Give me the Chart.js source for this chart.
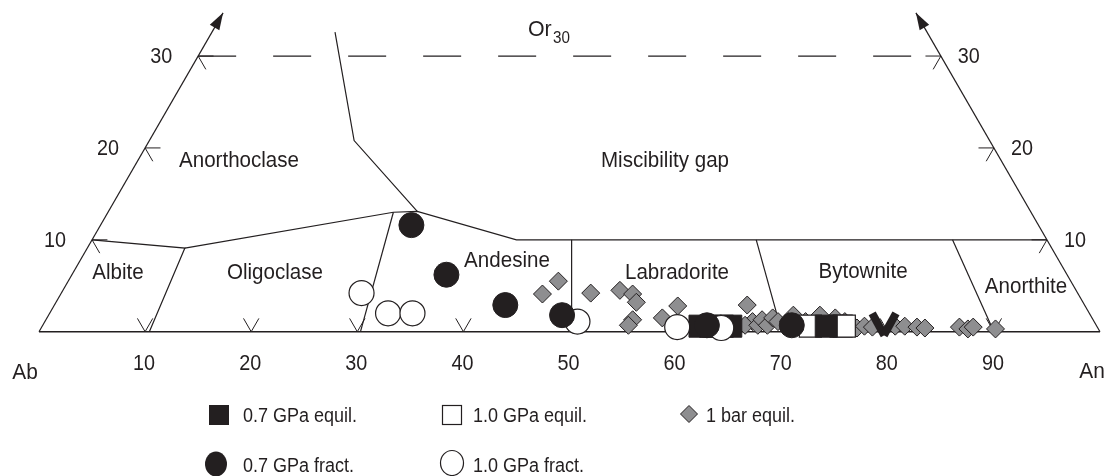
<!DOCTYPE html>
<html>
<head>
<meta charset="utf-8">
<script src="https://cdn.jsdelivr.net/npm/chart.js@4/dist/chart.umd.min.js"></script>
<style>
html,body{margin:0;padding:0;background:#fff;}
#wrap{width:1107px;height:476px;position:relative;}
</style>
</head>
<body>
<div id="wrap"><canvas id="c"></canvas></div>
<script>
// ---------- data (ternary: [An, Or], Ab = 100 - An - Or) ----------
const baseTicks = [10, 20, 30, 40, 50, 60, 70, 80, 90];
const sideTicks = [10, 20, 30];
const orCut = 30;
const edgeTop = 34.7;

const fieldNames = ['Anorthoclase', 'Miscibility gap', 'Albite', 'Oligoclase', 'Andesine', 'Labradorite', 'Bytownite', 'Anorthite'];

// field boundaries
const bAlbite       = [[0, 10], [9.2, 9.1], [10.4, 0]];
const bUpper        = [[9.2, 9.1], [26.9, 13.0], [29.1, 13.1], [40.0, 10.0], [90, 10]];
const bAnorthoclase = [[11.6, 32.6], [19.3, 20.8], [29.1, 13.1]];
const bOligAnd      = [[26.9, 13.0], [30.3, 0]];
const bAndLab       = [[45.2, 10], [50.2, 0]];
const bLabByt       = [[62.6, 10], [70.0, 0]];
const bBytAn        = [[81.1, 10], [90.0, 0]];

// series
const equil07 = [[62.0, 0.6], [63.0, 0.6], [64.1, 0.6], [64.9, 0.6], [73.9, 0.6], [78.7, 0.8], [79.8, 0.8]];
const equil10 = [[72.4, 0.6], [75.3, 0.6], [75.6, 0.6]];
const equil1bar = [[45.4, 4.1], [46.2, 5.5], [49.9, 4.2], [52.5, 4.5], [53.9, 4.1], [54.7, 3.2], [55.3, 1.3], [55.2, 0.7],
  [58.8, 2.8], [58.0, 1.5], [65.3, 2.9], [66.7, 1.1], [66.2, 0.7], [67.4, 0.7], [67.5, 1.3], [68.3, 0.7], [68.4, 1.5],
  [69.1, 1.1], [70.2, 1.8], [70.1, 1.1], [71.7, 1.1], [72.7, 1.8], [74.3, 1.5], [75.4, 1.1], [76.4, 0.7], [76.9, 0.4],
  [77.5, 0.6], [78.3, 0.5], [80.4, 0.6], [81.3, 0.6], [82.5, 0.5], [83.3, 0.4], [86.5, 0.5], [87.4, 0.3], [87.8, 0.5], [90.0, 0.3]];
const fract07 = [[29.3, 11.6], [35.3, 6.2], [42.5, 2.9], [48.4, 1.8], [62.6, 0.7], [70.6, 0.7]];
const fract10 = [[28.3, 4.2], [31.9, 2.0], [34.2, 2.0], [50.2, 1.1], [59.9, 0.5], [64.1, 0.4]];

const seriesLabels = ['0.7 GPa equil.', '1.0 GPa equil.', '1 bar equil.', '0.7 GPa fract.', '1.0 GPa fract.'];

// ---------- helpers ----------
const INK = '#231f20';
const GRAY = '#8e8e90';
const H = Math.sqrt(3) / 2;
const T = ([an, or]) => ({ x: an + or / 2, y: or * H });

const S = 10.61;
const X0 = 39, Y0 = 331.7;
const W = 1107, HT = 476;

function lineDs(pts, extra) {
  return Object.assign({
    type: 'scatter', data: pts.map(T), showLine: true, borderColor: INK, borderWidth: 1.2,
    pointRadius: 0, fill: false, order: 20, tension: 0
  }, extra || {});
}

const tk = 1.45;
const datasets = [];
datasets.push(lineDs([[0, 0], [100, 0]], { borderWidth: 1.4 }));
datasets.push(lineDs([[0, 0], [0, edgeTop]]));
datasets.push(lineDs([[100, 0], [100 - edgeTop, edgeTop]]));
datasets.push(lineDs([[0, orCut], [100 - orCut, orCut]], { borderDash: [38, 37] }));
[bAlbite, bUpper, bAnorthoclase, bOligAnd, bAndLab, bLabByt, bBytAn].forEach(b => datasets.push(lineDs(b)));
baseTicks.forEach(v => datasets.push(lineDs([[v - tk, tk], [v, 0], [v, tk]], { borderWidth: 1 })));
sideTicks.forEach(o => {
  datasets.push(lineDs([[tk, o], [0, o], [tk, o - tk]], { borderWidth: 1 }));
  datasets.push(lineDs([[100 - o - tk, o], [100 - o, o], [100 - o, o - tk]], { borderWidth: 1 }));
});

datasets.push({
  type: 'scatter', label: seriesLabels[2], data: equil1bar.map(T), order: 5,
  pointStyle: 'rectRot', pointRadius: 9, backgroundColor: GRAY, borderColor: INK, borderWidth: 1
});
datasets.push({
  type: 'scatter', label: seriesLabels[1], data: equil10.map(T), order: 4,
  pointStyle: 'rect', pointRadius: 15.6, backgroundColor: '#fff', borderColor: INK, borderWidth: 1.2
});
datasets.push({
  type: 'scatter', label: seriesLabels[0], data: equil07.map(T), order: 3,
  pointStyle: c => (c.dataIndex >= 5 ? 'line' : 'rect'),
  rotation: c => (c.dataIndex === 5 ? 61 : c.dataIndex === 6 ? -61 : 0),
  pointRadius: c => (c.dataIndex >= 5 ? 12.5 : 15.6),
  borderWidth: c => (c.dataIndex >= 5 ? 8 : 1),
  backgroundColor: INK, borderColor: INK
});
datasets.push({
  type: 'scatter', label: seriesLabels[4], data: fract10.map(T), order: 2,
  pointStyle: 'circle', pointRadius: 12.5, backgroundColor: '#fff', borderColor: INK, borderWidth: 1.2
});
datasets.push({
  type: 'scatter', label: seriesLabels[3], data: fract07.map(T), order: 1,
  pointStyle: 'circle', pointRadius: 12.5, backgroundColor: INK, borderColor: INK, borderWidth: 1
});

const FONT = '"Liberation Sans", Arial, Helvetica, sans-serif';
function txt(ctx, s, x, y, size, align, sx) {
  ctx.save();
  ctx.font = size + 'px ' + FONT;
  ctx.textAlign = align || 'center';
  ctx.textBaseline = 'alphabetic';
  ctx.translate(x, y);
  ctx.scale(sx || 0.9, 1);
  ctx.fillText(s, 0, 0);
  ctx.restore();
}

const deco = {
  id: 'deco',
  afterDatasetsDraw(chart) {
    const ctx = chart.ctx, sx = chart.scales.x, sy = chart.scales.y;
    const P = (an, or) => { const t = T([an, or]); return [sx.getPixelForValue(t.x), sy.getPixelForValue(t.y)]; };
    ctx.save();
    ctx.fillStyle = INK;
    [[[0, edgeTop], [0, 0]], [[100 - edgeTop, edgeTop], [100, 0]]].forEach(([tip, from]) => {
      const [tx, ty] = P(tip[0], tip[1]);
      const [fx, fy] = P(from[0], from[1]);
      const L = Math.hypot(tx - fx, ty - fy), ux = (tx - fx) / L, uy = (ty - fy) / L;
      const bx = tx - ux * 17, by = ty - uy * 17;
      ctx.beginPath();
      ctx.moveTo(tx, ty);
      ctx.lineTo(bx - uy * 5.5, by + ux * 5.5);
      ctx.lineTo(bx + uy * 5.5, by - ux * 5.5);
      ctx.closePath();
      ctx.fill();
    });
    baseTicks.forEach(v => { const [x, y] = P(v, 0); txt(ctx, String(v), x - 1, y + 38, 22); });
    sideTicks.forEach(o => {
      const [lx, ly] = P(0, o); txt(ctx, String(o), lx - 37, ly + 7, 22);
      const [rx, ry] = P(100 - o, o); txt(ctx, String(o), rx + 28, ry + 7, 22);
    });
    const [ax, ay] = P(0, 0), [nx, ny] = P(100, 0);
    txt(ctx, 'Ab', ax - 14, ay + 47, 22, 'center', 0.95);
    txt(ctx, 'An', nx - 8, ny + 46, 22, 'center', 0.95);
    txt(ctx, 'Or', 528, 36, 22, 'left', 0.97);
    txt(ctx, String(orCut), 553, 43, 16, 'left', 0.95);
    const pos = [[239, 167], [665, 167], [118, 279], [275, 279], [507, 267], [677, 279], [863, 278], [1026, 293]];
    fieldNames.forEach((n, i) => txt(ctx, n, pos[i][0], pos[i][1], 22, 'center', 0.935));
    ctx.strokeStyle = INK; ctx.lineWidth = 1.2;
    ctx.fillRect(209, 405, 20, 20);
    ctx.fillStyle = '#fff'; ctx.fillRect(442, 405, 20, 20); ctx.strokeRect(442.5, 405.5, 19, 19);
    ctx.beginPath(); ctx.moveTo(689, 405.5); ctx.lineTo(697.5, 414); ctx.lineTo(689, 422.5); ctx.lineTo(680.5, 414); ctx.closePath();
    ctx.fillStyle = GRAY; ctx.fill(); ctx.lineWidth = 1; ctx.stroke();
    ctx.fillStyle = INK;
    ctx.beginPath(); ctx.ellipse(216, 464, 11, 12.5, 0, 0, Math.PI * 2); ctx.fill();
    ctx.beginPath(); ctx.ellipse(452, 463, 11.5, 12.5, 0, 0, Math.PI * 2); ctx.fillStyle = '#fff'; ctx.fill(); ctx.lineWidth = 1.2; ctx.stroke();
    ctx.fillStyle = INK;
    txt(ctx, seriesLabels[0], 243, 422, 20, 'left');
    txt(ctx, seriesLabels[1], 473, 422, 20, 'left');
    txt(ctx, seriesLabels[2], 706, 422, 20, 'left');
    txt(ctx, seriesLabels[3], 243, 472, 20, 'left');
    txt(ctx, seriesLabels[4], 473, 472, 20, 'left');
    ctx.restore();
  }
};

new Chart(document.getElementById('c'), {
  type: 'scatter',
  data: { datasets },
  options: {
    responsive: true, maintainAspectRatio: false, animation: false, events: [],
    layout: { padding: 0, autoPadding: false },
    scales: {
      x: { type: 'linear', display: false, min: -X0 / S, max: (W - X0) / S },
      y: { type: 'linear', display: false, min: -(HT - Y0) / S, max: Y0 / S }
    },
    plugins: { legend: { display: false }, tooltip: { enabled: false } }
  },
  plugins: [deco]
});
</script>
</body>
</html>
